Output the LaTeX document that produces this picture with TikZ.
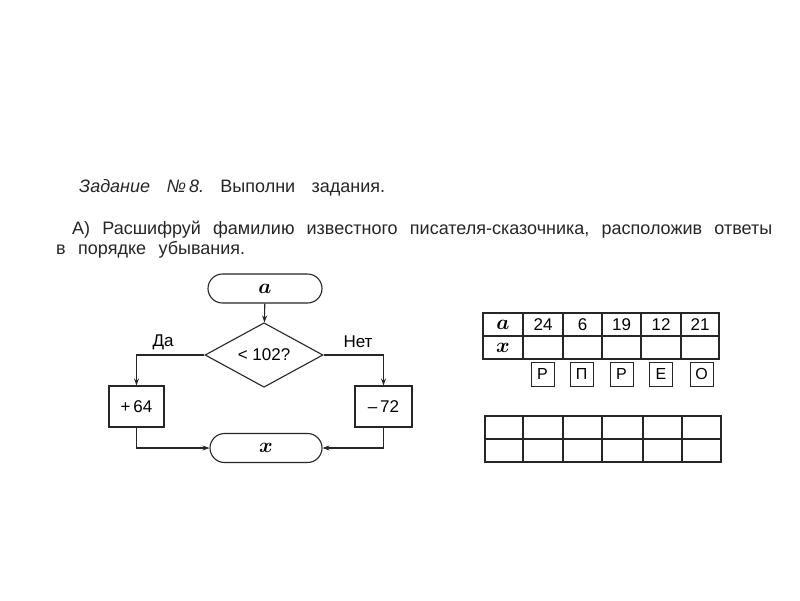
\documentclass[tikz,border=0pt]{standalone}
\usepackage{fontspec}
\usepackage{bm}
\setmainfont{Liberation Sans}
\frenchspacing
\usetikzlibrary{shapes.geometric,arrows.meta}
\tikzset{
  ln/.style={line width=1.1pt, draw=black!85},
  arr/.style={ln, -{Stealth[length=7pt,width=5pt]}},
  term/.style={ln, rounded corners=14.5pt, minimum height=29pt, inner sep=0pt},
  dec/.style={ln, diamond, minimum width=118pt, minimum height=64pt, inner sep=0pt},
  proc/.style={ln, rectangle, minimum height=41pt, inner sep=0pt},
  lbl/.style={font=\fontsize{17}{20}\selectfont, inner sep=0pt},
  txt/.style={font=\fontsize{18}{22}\selectfont, inner sep=0pt, anchor=base west, text=black!85},
  cell/.style={font=\fontsize{17}{20}\selectfont, inner sep=0pt},
  letbox/.style={ln, line width=0.9pt, minimum width=23pt, minimum height=24pt, inner sep=0pt, font=\fontsize{16}{18}\selectfont},
  var/.style={font=\fontsize{21}{24}\selectfont, inner sep=0pt}
}
\begin{document}
\begin{tikzpicture}[x=1pt,y=-1pt]
\useasboundingbox (0,0) rectangle (800,600);
\fill[white] (0,0) rectangle (800,600);
% texts
\node[txt] (h1) at (79,192.5) {\makebox[306pt][s]{\textit{Задание} \textit{№\,8.} Выполни задания.}};
\node[txt] (h2) at (72,234.5) {\makebox[700pt][s]{А) Расшифруй фамилию известного писателя-сказочника, расположив ответы}};
\node[txt] (h3) at (56,254.5) {\makebox[189pt][s]{в порядке убывания.}};
% flowchart
\node[term, minimum width=114pt, var] (a) at (265,288.5) {$\bm{a}$};
\node[dec, lbl] (d) at (264,355) {< 102?};
\node[proc, minimum width=55pt, lbl] (p) at (136.5,406.5) {+\,64};
\node[proc, minimum width=57pt, lbl] (m) at (383.5,406.5) {–\,72};
\node[term, minimum width=112pt, var] (x) at (266,448) {$\bm{x}$};
\draw[arr] (a) -- (d);
\draw[arr] (d.west) -| (p.north);
\draw[arr] (d.east) -| (m.north);
\draw[arr] (p.south) |- (x.west);
\draw[arr] (m.south) |- (x.east);
\node[lbl] (da) at (163,342) {Да};
\node[lbl] (net) at (358,342) {Нет};
% upper table
\draw[ln] (483,313) rectangle (719,359);
\draw[ln] (483,336) -- (719,336);
\foreach \c in {523,563,602,641,681} \draw[ln] (\c,313) -- (\c,359);
\node[var] (ta) at (503,324.5) {$\bm{a}$};
\node[var] (tx) at (503,347.5) {$\bm{x}$};
\node[cell] (v1) at (543,325) {24};
\node[cell] (v2) at (582.5,325) {6};
\node[cell] (v3) at (621.5,325) {19};
\node[cell] (v4) at (661,325) {12};
\node[cell] (v5) at (700,325) {21};
% letters
\node[letbox] (l1) at (542.5,374) {Р};
\node[letbox] (l2) at (581.5,374) {П};
\node[letbox] (l3) at (621.5,374) {Р};
\node[letbox] (l4) at (661,374) {Е};
\node[letbox] (l5) at (701.5,374) {О};
% lower table
\draw[ln] (485,416) rectangle (721,462);
\draw[ln] (485,439) -- (721,439);
\foreach \c in {523,563,602,643,682} \draw[ln] (\c,416) -- (\c,462);
\end{tikzpicture}
\end{document}
